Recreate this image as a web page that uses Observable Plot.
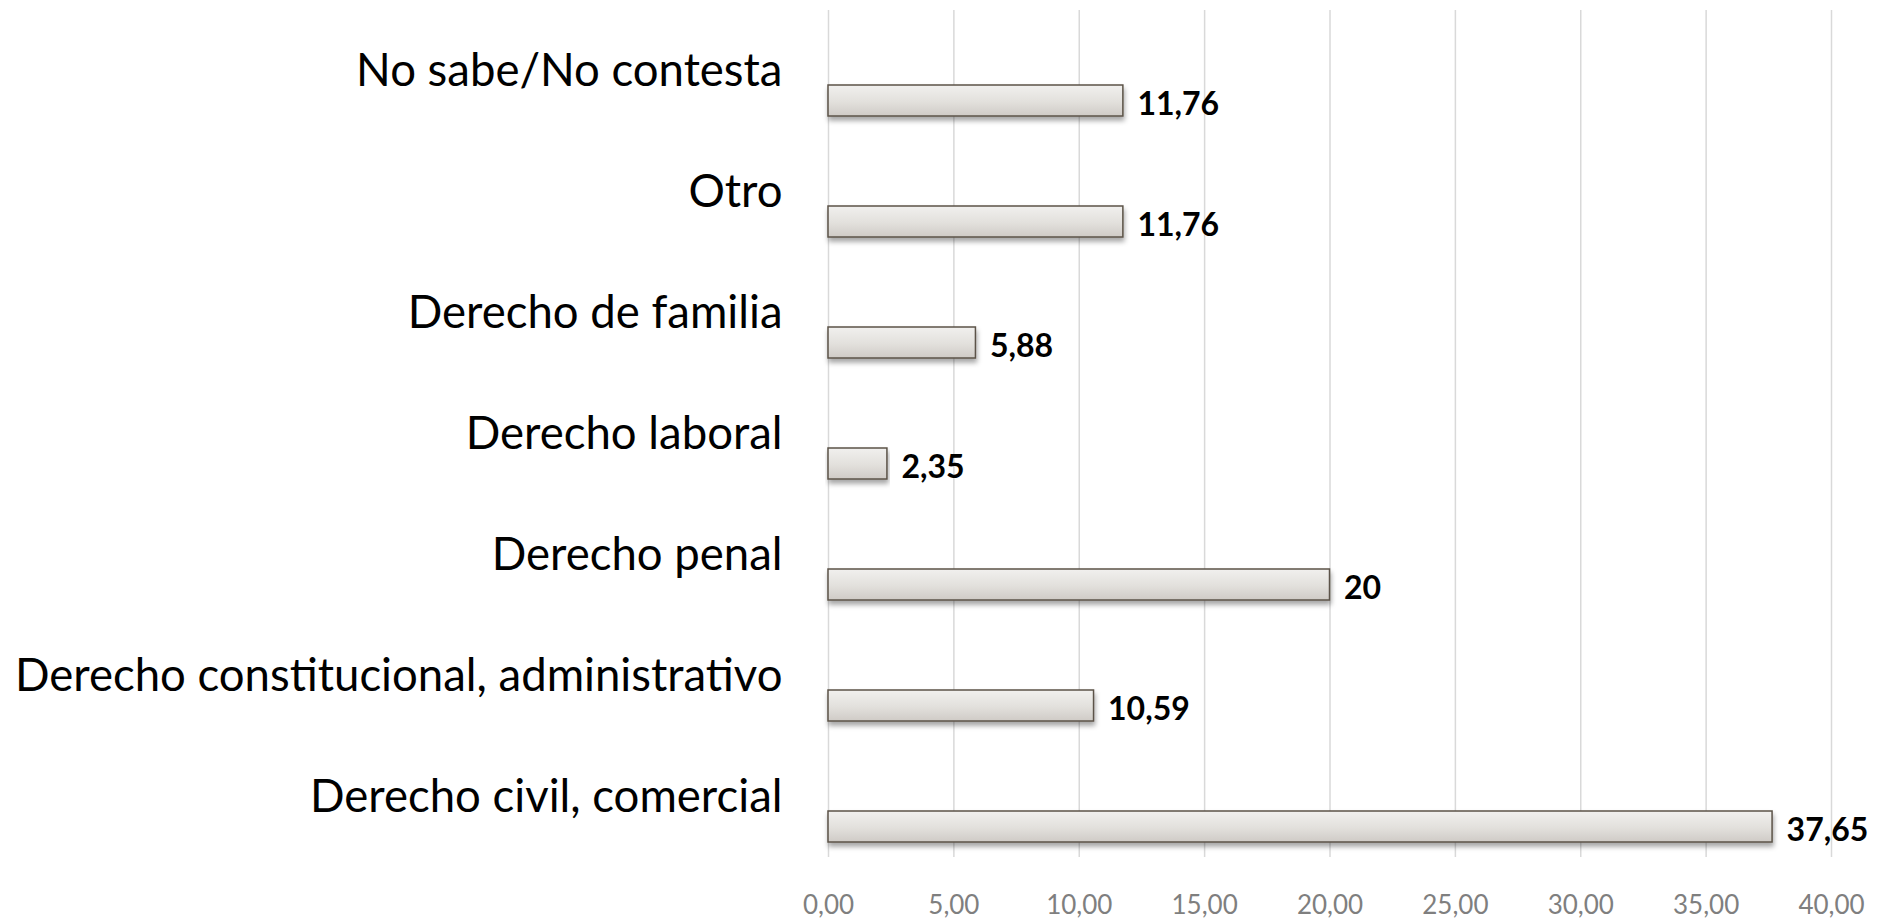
<!DOCTYPE html>
<html><head><meta charset="utf-8">
<script src="https://cdn.jsdelivr.net/npm/d3@7"></script>
<script src="https://cdn.jsdelivr.net/npm/@observablehq/plot@0.6"></script>
<style>body{margin:0;background:#fff;overflow:hidden}</style>
</head><body><div id="chart"></div>
<script>
const categories = [
  "No sabe/No contesta",
  "Otro",
  "Derecho de familia",
  "Derecho laboral",
  "Derecho penal",
  "Derecho constitucional, administrativo",
  "Derecho civil, comercial"
];
const values = [11.76, 11.76, 5.88, 2.35, 20, 10.59, 37.65];
const xTicks = [0, 5, 10, 15, 20, 25, 30, 35, 40];

const data = categories.map((c, i) => ({category: c, value: values[i]}));
const fmt = v => String(v).replace(".", ",");

const chart = Plot.plot({
  width: 1893, height: 920,
  marginLeft: 828, marginRight: 62, marginTop: 10, marginBottom: 63,
  style: {fontFamily: "Lato, sans-serif", background: "#fff", overflow: "visible"},
  x: {domain: [0, 40]},
  y: {domain: categories, padding: 0},
  marks: [
    Plot.gridX(xTicks, {stroke: "#d9d9d9", strokeOpacity: 1, strokeWidth: 1.5}),
    Plot.barX(data, {y: "category", x: "value", insetTop: 75, insetBottom: 15,
      fill: "url(#barGrad)", stroke: "#5b5348", strokeWidth: 1.5}),
    Plot.text(data, {y: "category", x: "value", text: d => fmt(d.value),
      dx: 14, dy: 34, textAnchor: "start", fontSize: 32, fontWeight: "bold", fill: "#000"}),
    Plot.axisX(xTicks, {tickSize: 0, tickPadding: 38,
      tickFormat: d => d.toFixed(2).replace(".", ","), fontSize: 26, color: "#7f7f7f", label: null}),
    Plot.axisY({tickSize: 0, tickPadding: 46, fontSize: 45.5, label: null, color: "#000"})
  ]
});

const svg = d3.select(chart);
const defs = svg.insert("defs", ":first-child");
const g = defs.append("linearGradient").attr("id", "barGrad")
  .attr("x1", 0).attr("y1", 0).attr("x2", 0).attr("y2", 1);
g.append("stop").attr("offset", "0%").attr("stop-color", "#f1f0ee");
g.append("stop").attr("offset", "55%").attr("stop-color", "#e2e0dc");
g.append("stop").attr("offset", "100%").attr("stop-color", "#cfcbc6");
const f = defs.append("filter").attr("id", "barShadow")
  .attr("x", "-5%").attr("y", "-30%").attr("width", "110%").attr("height", "180%");
f.append("feDropShadow").attr("dx", 1).attr("dy", 4).attr("stdDeviation", 2.5)
  .attr("flood-color", "#000").attr("flood-opacity", 0.35);
svg.selectAll("g[aria-label='bar'] rect").attr("filter", "url(#barShadow)");

document.getElementById("chart").appendChild(chart);
</script>
</body></html>
